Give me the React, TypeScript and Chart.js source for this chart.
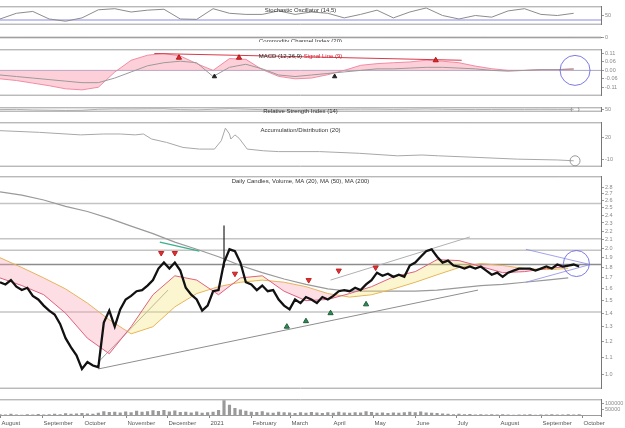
import React, { useEffect, useRef } from 'react';
import { Chart, registerables } from 'chart.js';

Chart.register(...registerables);

// ---- time axis: calendar days counted from 1 August 2020 ----
const X_MAX = 440;
const MONTH_STARTS = [0, 31, 61, 92, 122, 153, 184, 212, 243, 273, 304, 334, 365, 396, 426];
const MONTH_LABELS = ['August', 'September', 'October', 'November', 'December', '2021', 'February', 'March', 'April', 'May', 'June', 'July', 'August', 'September', 'October'];

// ---- price (sampled every 4 days) ----
const PRICE_STEP = 4;
const CLOSES = [
  1.66, 1.64, 1.68, 1.62, 1.59, 1.61, 1.54, 1.51, 1.46, 1.42,
  1.39, 1.32, 1.22, 1.16, 1.11, 1.03, 1.07, 1.05, 1.04, 1.33,
  1.42, 1.30, 1.43, 1.51, 1.54, 1.58, 1.59, 1.63, 1.68, 1.79,
  1.85, 1.79, 1.85, 1.77, 1.61, 1.55, 1.51, 1.42, 1.46, 1.58,
  1.59, 1.85, 1.99, 1.97, 1.85, 1.66, 1.64, 1.59, 1.63, 1.58,
  1.59, 1.51, 1.46, 1.43, 1.51, 1.48, 1.53, 1.51, 1.48, 1.53,
  1.51, 1.54, 1.58, 1.59, 1.58, 1.61, 1.59, 1.64, 1.68, 1.75,
  1.72, 1.74, 1.71, 1.73, 1.71, 1.82, 1.85, 1.91, 1.97, 1.99,
  1.91, 1.85, 1.87, 1.82, 1.81, 1.79, 1.81, 1.79, 1.81, 1.77,
  1.73, 1.75, 1.71, 1.75, 1.77, 1.79, 1.79, 1.79, 1.77, 1.79,
  1.81, 1.79, 1.83, 1.81, 1.82, 1.83, 1.81,
];
const VOLUME = [
  12000, 9000, 14000, 10000, 8000, 11000, 9000, 13000, 10000, 12000, 15000, 11000, 18000, 14000, 16000,
  20000, 17000, 15000, 22000,
  35000, 28000, 30000, 24000, 32000, 26000, 38000, 30000, 34000, 42000, 36000, 45000, 32000, 40000, 28000, 30000, 25000, 33000, 22000, 26000, 30000, 45000,
  120000, 85000, 60000, 48000,
  38000, 30000, 28000, 35000, 25000, 22000, 30000, 27000, 24000, 20000, 26000, 22000, 28000, 24000, 21000, 26000, 23000, 30000, 25000, 22000, 27000, 24000, 35000, 28000, 22000, 25000, 20000, 24000, 22000, 26000,
  30000, 26000, 32000, 24000, 22000, 20000,
  16000, 14000, 12000, 15000, 11000, 13000, 10000, 12000, 9000, 11000, 10000, 12000, 9000, 8000, 10000, 9000, 11000, 8000, 10000, 9000, 12000, 10000, 9000, 11000, 10000, 12000,
];
const VOLUME_TICKS = [50000, 100000];

// ---- moving averages (sampled every 16 days) ----
const MA_STEP = 16;
const MA20 = [1.70, 1.63, 1.55, 1.40, 1.22, 1.12, 1.30, 1.55, 1.72, 1.68, 1.55, 1.70, 1.72, 1.58, 1.50, 1.51, 1.56, 1.62, 1.71, 1.76, 1.88, 1.87, 1.81, 1.75, 1.76, 1.79, 1.81];
const MA50 = [1.90, 1.80, 1.70, 1.60, 1.48, 1.35, 1.25, 1.30, 1.45, 1.56, 1.62, 1.66, 1.68, 1.66, 1.62, 1.56, 1.53, 1.55, 1.60, 1.66, 1.73, 1.80, 1.84, 1.82, 1.79, 1.78, 1.79];
const MA200 = [2.73, 2.68, 2.61, 2.52, 2.45, 2.36, 2.26, 2.17, 2.07, 1.99, 1.91, 1.82, 1.75, 1.69, 1.64, 1.60, 1.58, 1.58, 1.58, 1.58, 1.59, 1.61, 1.63, 1.64, 1.66, 1.68, 1.70];

// ---- price levels, trend lines and signals ----
const LEVELS = [2.56, 2.11, 1.98, 1.83, 1.41];
const PRICE_TICKS = [2.8, 2.7, 2.6, 2.5, 2.4, 2.3, 2.2, 2.1, 2.0, 1.9, 1.8, 1.7, 1.6, 1.5, 1.4, 1.3, 1.2, 1.1, 1.0];
const WICK_DAYS = [164, 164];
const WICK_PRICES = [1.80, 2.27];
const SUPPORT_DAYS = [72, 350];
const SUPPORT_PRICES = [1.03, 1.59];
const RALLY_DAYS = [72, 123];
const RALLY_PRICES = [1.07, 1.59];
const CHANNEL_DAYS = [242, 344];
const CHANNEL_PRICES = [1.68, 2.13];
const BREAK_DAYS = [117, 146];
const BREAK_PRICES = [2.07, 1.97];
const WEDGE_DAYS = [385, 432];
const WEDGE_UPPER = [1.99, 1.83];
const WEDGE_LOWER = [1.66, 1.83];
const SELL_DAYS = [118, 128, 172, 226, 248, 275];
const SELL_PRICES = [1.95, 1.95, 1.74, 1.68, 1.77, 1.80];
const BUY_DAYS = [210, 224, 242, 268];
const BUY_PRICES = [1.30, 1.34, 1.40, 1.47];
const FOCUS_DAYS = [422];
const FOCUS_PRICES = [1.84];

// ---- indicators (sampled every 12 days) ----
const IND_STEP = 12;
const STOCH = [31, 62, 72, 31, 19, 37, 81, 87, 69, 79, 84, 31, 29, 87, 62, 56, 56, 75, 56, 69, 62, 37, 56, 79, 37, 69, 91, 50, 31, 50, 41, 75, 87, 56, 50, 62];
const STOCH_LEVEL = 25;
const CCI = [40, 60, -20, -80, -120, -60, 120, 150, 90, 110, 130, -40, -90, 60, 160, 40, -30, -60, -100, -50, 20, 40, 90, 60, -20, 70, 140, 30, -60, -40, 10, 30, 20, 40, 10, 30];
const MACD_HIST = [-0.055, -0.066, -0.083, -0.10, -0.12, -0.127, -0.11, -0.011, 0.066, 0.099, 0.11, 0.094, 0.044, 0.0, 0.077, 0.072, 0.005, -0.039, -0.055, -0.05, -0.028, 0.0, 0.033, 0.044, 0.05, 0.055, 0.066, 0.06, 0.05, 0.028, 0.011, 0.0, 0.0, 0.005, 0.005, 0.011];
const MACD_LINE = [-0.03, -0.04, -0.05, -0.06, -0.07, -0.08, -0.08, -0.05, -0.01, 0.03, 0.05, 0.06, 0.05, -0.04, 0.02, 0.04, 0.01, -0.03, -0.04, -0.03, -0.02, -0.01, 0.0, 0.01, 0.01, 0.015, 0.02, 0.02, 0.015, 0.01, 0.0, -0.005, 0.0, 0.005, 0.005, 0.008];
const MACD_TICKS = [0.11, 0.055, 0, -0.055, -0.11];
const MACD_TREND_DAYS = [113, 338];
const MACD_TREND_VALUES = [0.11, 0.066];
const MACD_UP_DAYS = [131, 175, 319];
const MACD_UP_VALUES = [0.083, 0.083, 0.066];
const MACD_DOWN_DAYS = [157, 245];
const MACD_DOWN_VALUES = [-0.04, -0.04];
const RSI = [48, 52, 40, 35, 30, 33, 55, 62, 60, 64, 66, 48, 42, 55, 68, 58, 46, 44, 40, 45, 50, 54, 58, 57, 52, 56, 62, 55, 50, 48, 51, 53, 52, 54, 52, 53];
const AD_DAYS = [0, 29, 59, 76, 88, 99, 105, 111, 122, 134, 146, 157, 162, 165, 168, 169, 172, 175, 181, 193, 204, 234, 263, 291, 309, 321, 350, 379, 408, 420];
const AD_VALUES = [28.7, 26.4, 23.0, 24.2, 24.2, 23.0, 24.2, 17.4, 12.8, 6.0, 3.8, 3.8, 15.1, 32.1, 24.2, 17.4, 23.0, 18.5, 3.8, 1.5, 0.4, 0.4, -1.9, -5.3, -4.2, -5.3, -7.5, -9.8, -10.9, -12.0];
const AD_TICKS = [20, -10];

// ---- styling ----
const AXIS_W = 24;
const FAMILY = '"Liberation Sans", Arial, sans-serif';
const TICK_FONT = { family: FAMILY, size: 5.5 };

type Part = { text: string; color: string };

// Panel frame lines, an in-panel caption and (optionally) the month axis
function decor(parts: Part[], y: number, months = false) {
  return {
    id: 'panelDecor',
    afterDatasetsDraw(chart: any) {
      const { ctx, chartArea } = chart;
      ctx.save();
      ctx.strokeStyle = '#9c9c9c';
      ctx.lineWidth = 1;
      ctx.beginPath();
      ctx.moveTo(0, chartArea.top + 0.5);
      ctx.lineTo(chartArea.right, chartArea.top + 0.5);
      ctx.moveTo(0, chartArea.bottom - 0.5);
      ctx.lineTo(chartArea.right, chartArea.bottom - 0.5);
      ctx.stroke();
      ctx.font = `6px ${FAMILY}`;
      ctx.textBaseline = 'middle';
      ctx.textAlign = 'left';
      const total = parts.reduce((w, p) => w + ctx.measureText(p.text).width, 0);
      let x = (chartArea.left + chartArea.right) / 2 - total / 2;
      for (const p of parts) {
        ctx.fillStyle = p.color;
        ctx.fillText(p.text, x, chartArea.top + y);
        x += ctx.measureText(p.text).width;
      }
      if (months) {
        const xs = chart.scales.x;
        ctx.strokeStyle = '#888';
        ctx.fillStyle = '#555';
        ctx.beginPath();
        MONTH_STARTS.forEach((d, i) => {
          const px = Math.round(xs.getPixelForValue(d)) + 0.5;
          ctx.moveTo(px, chartArea.bottom);
          ctx.lineTo(px, chartArea.bottom + 2);
          ctx.fillText(MONTH_LABELS[i], px + 1, chartArea.bottom + 7);
        });
        ctx.stroke();
      }
      ctx.restore();
    },
  };
}

const stepDays = (values: number[], step: number) => values.map((_, i) => i * step);

function series(days: number[], values: number[], style: any = {}) {
  return {
    type: 'line',
    data: days.map((d, i) => ({ x: d, y: values[i] })),
    pointRadius: 0,
    borderWidth: 1,
    tension: 0,
    fill: false,
    ...style,
  };
}

function markers(days: number[], values: number[], style: any) {
  return {
    type: 'line',
    showLine: false,
    data: days.map((d, i) => ({ x: d, y: values[i] })),
    ...style,
  };
}

function flat(value: number, color: string, width = 1) {
  return series([0, X_MAX], [value, value], { borderColor: color, borderWidth: width });
}

function rightAxis(type: string, min: number, max: number, ticks: number[], fmt: (v: number) => string) {
  return {
    type,
    min,
    max,
    position: 'right',
    afterFit: (s: any) => { s.width = AXIS_W; },
    afterBuildTicks: (s: any) => { s.ticks = ticks.map((v) => ({ value: v })); },
    grid: { drawOnChartArea: false, drawTicks: true, tickLength: 3, color: '#9a9a9a' },
    border: { display: true, color: '#777' },
    ticks: { font: TICK_FONT, color: '#8a8a8a', padding: 1, autoSkip: false, callback: (v: number) => fmt(v) },
  };
}

const hiddenX = { type: 'linear', min: 0, max: X_MAX, display: false, offset: false };

function config(datasets: any[], y: any, parts: Part[], captionY: number, months = false) {
  return {
    type: 'line',
    data: { datasets },
    options: {
      responsive: false,
      animation: false,
      devicePixelRatio: 1,
      events: [],
      layout: { padding: { left: 0, right: 0, top: 0, bottom: months ? 12 : 0 }, autoPadding: false },
      plugins: { legend: { display: false }, tooltip: { enabled: false } },
      scales: { x: hiddenX, y },
    },
    plugins: [decor(parts, captionY, months)],
  };
}

const ring = (color: string, r: number) => ({
  pointRadius: r,
  pointStyle: 'circle',
  pointBackgroundColor: 'rgba(0,0,0,0)',
  pointBorderColor: color,
  pointBorderWidth: 1,
});

function stochConfig() {
  const days = stepDays(STOCH, IND_STEP);
  return config(
    [
      series(days, STOCH, { borderColor: '#8c8c8c', borderWidth: 1 }),
      flat(STOCH_LEVEL, 'rgba(150,150,235,0.55)', 2),
    ],
    rightAxis('linear', 0, 100, [50], (v) => String(v)),
    [{ text: 'Stochastic Oscillator (14,5)', color: '#333' }],
    4,
  );
}

function cciConfig() {
  const days = stepDays(CCI, IND_STEP);
  return config(
    [series(days, CCI, { borderColor: '#b5b5b5' }), flat(0, '#e2e2e2')],
    rightAxis('linear', -300, 300, [0], (v) => String(v)),
    [{ text: 'Commodity Channel Index (20)', color: '#333' }],
    4.5,
  );
}

function macdConfig() {
  const days = stepDays(MACD_HIST, IND_STEP);
  return config(
    [
      markers(MACD_UP_DAYS, MACD_UP_VALUES, { pointStyle: 'triangle', pointRadius: 3, pointBackgroundColor: '#e02828', pointBorderColor: '#b01818' }),
      markers(MACD_DOWN_DAYS, MACD_DOWN_VALUES, { pointStyle: 'triangle', pointRadius: 2.5, pointBackgroundColor: '#222', pointBorderColor: '#222' }),
      markers([421], [0], ring('rgba(100,100,225,0.85)', 15)),
      series(MACD_TREND_DAYS, MACD_TREND_VALUES, { borderColor: '#d83a4a', borderWidth: 1.2 }),
      series(days, MACD_LINE, { borderColor: '#9a9a9a' }),
      series(days, MACD_HIST, { borderColor: 'rgba(240,130,155,0.9)', backgroundColor: 'rgba(250,150,170,0.45)', fill: 'origin' }),
      flat(0, '#a8a8c8'),
    ],
    rightAxis('linear', -0.165, 0.1375, MACD_TICKS, (v) => v.toFixed(2)),
    [
      { text: 'MACD (12,26,9) ', color: '#222' },
      { text: 'Signal Line (9)', color: '#d02030' },
    ],
    7,
  );
}

function rsiConfig() {
  const days = stepDays(RSI, IND_STEP);
  return config(
    [
      markers([421], [50], ring('#999', 4)),
      series(days, RSI, { borderColor: '#b0b0b0' }),
    ],
    rightAxis('linear', 0, 100, [50], (v) => String(v)),
    [{ text: 'Relative Strength Index (14)', color: '#333' }],
    4,
  );
}

function adConfig() {
  return config(
    [
      markers([421], [AD_VALUES[AD_VALUES.length - 1]], ring('#999', 5)),
      series(AD_DAYS, AD_VALUES, { borderColor: '#a8a8a8' }),
    ],
    rightAxis('linear', -20, 40, AD_TICKS, (v) => String(v)),
    [{ text: 'Accumulation/Distribution (20)', color: '#333' }],
    8,
  );
}

function priceConfig() {
  const priceDays = stepDays(CLOSES, PRICE_STEP);
  const maDays = stepDays(MA20, MA_STEP);
  const ds: any[] = [];
  ds.push(series(priceDays, CLOSES, { borderColor: '#111', borderWidth: 2.3 }));
  ds.push(series(WICK_DAYS, WICK_PRICES, { borderColor: '#222', borderWidth: 1.2 }));
  ds.push(markers(SELL_DAYS, SELL_PRICES, { pointStyle: 'triangle', rotation: 180, pointRadius: 3, pointBackgroundColor: '#e23030', pointBorderColor: '#c02020' }));
  ds.push(markers(BUY_DAYS, BUY_PRICES, { pointStyle: 'triangle', pointRadius: 3, pointBackgroundColor: '#2e8b57', pointBorderColor: '#1f5f3b' }));
  ds.push(markers(FOCUS_DAYS, FOCUS_PRICES, ring('rgba(100,100,225,0.85)', 13)));
  ds.push(series(WEDGE_DAYS, WEDGE_UPPER, { borderColor: 'rgba(140,140,230,0.8)' }));
  ds.push(series(WEDGE_DAYS, WEDGE_LOWER, { borderColor: 'rgba(140,140,230,0.8)' }));
  const ma50Index = ds.length + 1;
  ds.push(series(maDays, MA20, {
    borderColor: '#e0607e',
    fill: { target: ma50Index, above: 'rgba(246,228,120,0.35)', below: 'rgba(250,160,180,0.35)' },
  }));
  ds.push(series(maDays, MA50, { borderColor: '#e2b24e' }));
  ds.push(series(maDays, MA200, { borderColor: '#9a9a9a', borderWidth: 1.2 }));
  ds.push(series(SUPPORT_DAYS, SUPPORT_PRICES, { borderColor: '#8e8e8e' }));
  ds.push(series(RALLY_DAYS, RALLY_PRICES, { borderColor: '#a0a0a0' }));
  ds.push(series(CHANNEL_DAYS, CHANNEL_PRICES, { borderColor: '#b0b0b0' }));
  ds.push(series(BREAK_DAYS, BREAK_PRICES, { borderColor: '#3cb08c', borderWidth: 1.5 }));
  LEVELS.forEach((lv, i) => ds.push(flat(lv, i === 3 ? '#8c8c8c' : '#c4c4c4', 1.5)));
  return config(
    ds,
    rightAxis('logarithmic', 0.924, 2.974, PRICE_TICKS, (v) => v.toFixed(1)),
    [{ text: 'Daily Candles, Volume, MA (20), MA (50), MA (200)', color: '#333' }],
    5,
  );
}

function volumeConfig() {
  const days = stepDays(VOLUME, PRICE_STEP);
  return config(
    [{
      type: 'bar',
      data: days.map((d, i) => ({ x: d, y: VOLUME[i] })),
      backgroundColor: '#9a9a9a',
      barThickness: 2.5,
    }],
    rightAxis('linear', 0, 130000, VOLUME_TICKS, (v) => String(v)),
    [],
    0,
    true,
  );
}

function Panel({ top, height, build }: { top: number; height: number; build: () => any }) {
  const ref = useRef<HTMLCanvasElement>(null);
  useEffect(() => {
    const chart = new Chart(ref.current as HTMLCanvasElement, build());
    return () => chart.destroy();
  }, []);
  return (
    <canvas
      ref={ref}
      width={625}
      height={height}
      style={{ position: 'absolute', left: 0, top, width: 625, height }}
    />
  );
}

export default function App() {
  return (
    <div style={{ position: 'fixed', left: 0, top: 0, width: 625, height: 428, background: '#fff', overflow: 'hidden' }}>
      <Panel top={2} height={27} build={stochConfig} />
      <Panel top={33} height={9} build={cciConfig} />
      <Panel top={45} height={55} build={macdConfig} />
      <Panel top={103} height={13} build={rsiConfig} />
      <Panel top={118} height={53} build={adConfig} />
      <Panel top={172} height={221} build={priceConfig} />
      <Panel top={395} height={33} build={volumeConfig} />
    </div>
  );
}
